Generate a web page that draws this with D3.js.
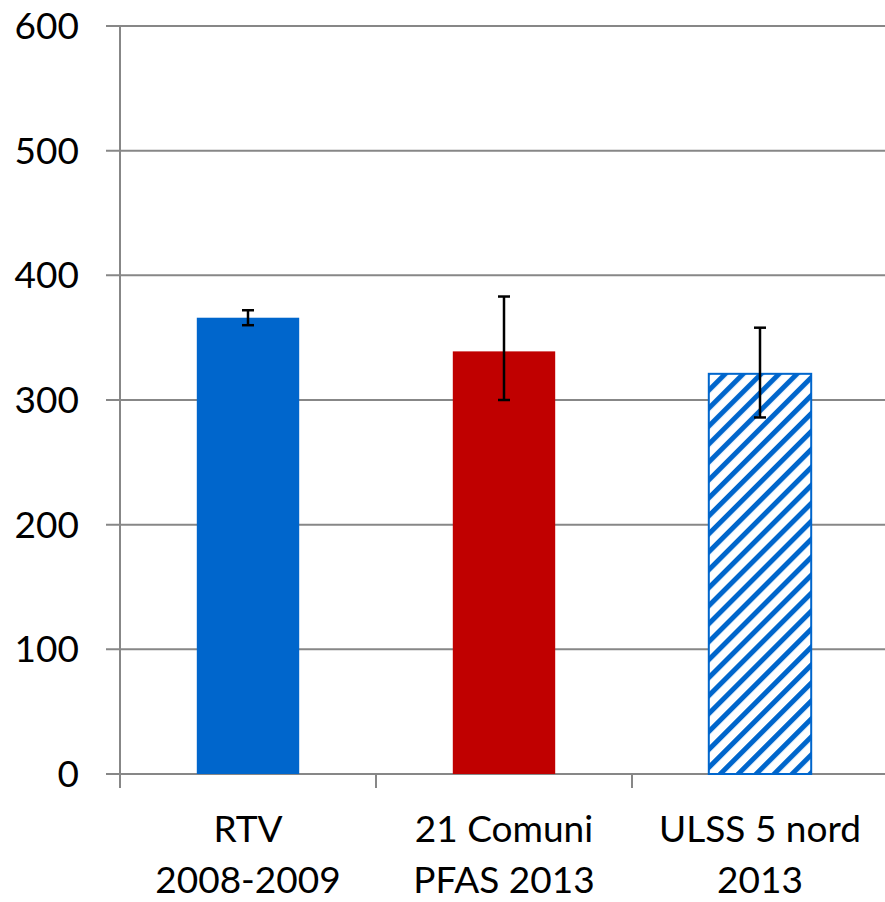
<!DOCTYPE html>
<html>
<head>
<meta charset="utf-8">
<script src="https://cdn.jsdelivr.net/npm/d3@7"></script>
<style>
  html, body { margin: 0; padding: 0; background: #fff; }
  svg text { font-family: Lato, "Noto Sans", sans-serif; fill: #000; }
</style>
</head>
<body>
<div id="grafico"></div>
<script>
// dati
const categorie = [["RTV", "2008-2009"], ["21 Comuni", "PFAS 2013"], ["ULSS 5 nord", "2013"]];
const valori = [366, 339, 321];
const erroreMin = [360, 300, 286];
const erroreMax = [372, 383, 358];
const tickY = [0, 100, 200, 300, 400, 500, 600];

const larghezza = 885, altezza = 902;
const margem = {top: 26, bottom: 128, left: 120, right: -3};

const svg = d3.select("#grafico").append("svg")
    .attr("width", larghezza)
    .attr("height", altezza);

// pattern a righe diagonali per la terza barra
const defs = svg.append("defs");
const pattern = defs.append("pattern")
    .attr("id", "tratteggio")
    .attr("patternUnits", "userSpaceOnUse")
    .attr("width", 12.7)
    .attr("height", 12.7)
    .attr("patternTransform", "rotate(45)");
pattern.append("rect").attr("width", 12.7).attr("height", 12.7).attr("fill", "#fff");
pattern.append("rect").attr("x", 0).attr("width", 5).attr("height", 12.7).attr("fill", "#0066CC");

const eixoX = d3.scaleBand()
    .domain(d3.range(categorie.length))
    .range([margem.left, larghezza - margem.right])
    .paddingInner(0).paddingOuter(0);

const eixoY = d3.scaleLinear()
    .domain([0, 600])
    .range([altezza - margem.bottom, margem.top]);

const grigio = "#878787";

// griglia orizzontale
svg.append("g").selectAll("line")
    .data(tickY)
    .join("line")
    .attr("x1", margem.left - 14)
    .attr("x2", larghezza)
    .attr("y1", d => eixoY(d))
    .attr("y2", d => eixoY(d))
    .attr("stroke", grigio)
    .attr("stroke-width", 2);

// etichette asse Y
svg.append("g").selectAll("text")
    .data(tickY)
    .join("text")
    .attr("x", 79)
    .attr("y", d => eixoY(d) + 13)
    .attr("text-anchor", "end")
    .style("font-size", "37px")
    .text(d => d);

// asse verticale
svg.append("line")
    .attr("x1", margem.left).attr("x2", margem.left)
    .attr("y1", eixoY(600)).attr("y2", eixoY(0) + 14)
    .attr("stroke", grigio).attr("stroke-width", 2);

// tacche asse X
svg.append("g").selectAll("line")
    .data(d3.range(1, categorie.length + 1))
    .join("line")
    .attr("x1", d => eixoX(0) + d * eixoX.bandwidth())
    .attr("x2", d => eixoX(0) + d * eixoX.bandwidth())
    .attr("y1", eixoY(0))
    .attr("y2", eixoY(0) + 14)
    .attr("stroke", grigio).attr("stroke-width", 2);

// barre
const larghezzaBarra = eixoX.bandwidth() * 0.4;
const colori = ["#0066CC", "#C00000", "url(#tratteggio)"];
svg.append("g").selectAll("rect")
    .data(valori)
    .join("rect")
    .attr("x", (d, i) => eixoX(i) + (eixoX.bandwidth() - larghezzaBarra) / 2)
    .attr("y", d => eixoY(d))
    .attr("width", larghezzaBarra)
    .attr("height", d => eixoY(0) - eixoY(d))
    .attr("fill", (d, i) => colori[i])
    .attr("stroke", (d, i) => i === 2 ? "#0066CC" : "none")
    .attr("stroke-width", 2);

// barre di errore
const err = svg.append("g").attr("stroke", "#000").attr("stroke-width", 2.5);
valori.forEach((v, i) => {
    const cx = eixoX(i) + eixoX.bandwidth() / 2;
    err.append("line")
        .attr("x1", cx).attr("x2", cx)
        .attr("y1", eixoY(erroreMin[i])).attr("y2", eixoY(erroreMax[i]));
    [erroreMin[i], erroreMax[i]].forEach(e => {
        err.append("line")
            .attr("x1", cx - 6).attr("x2", cx + 6)
            .attr("y1", eixoY(e)).attr("y2", eixoY(e));
    });
});

// etichette categorie
const etichette = svg.append("g").selectAll("text")
    .data(categorie)
    .join("text")
    .attr("text-anchor", "middle")
    .style("font-size", "37px");
etichette.each(function(d, i) {
    const cx = eixoX(i) + eixoX.bandwidth() / 2;
    d.forEach((riga, j) => {
        d3.select(this).append("tspan")
            .attr("x", cx)
            .attr("y", 842 + j * 51)
            .text(riga);
    });
});
</script>
</body>
</html>
